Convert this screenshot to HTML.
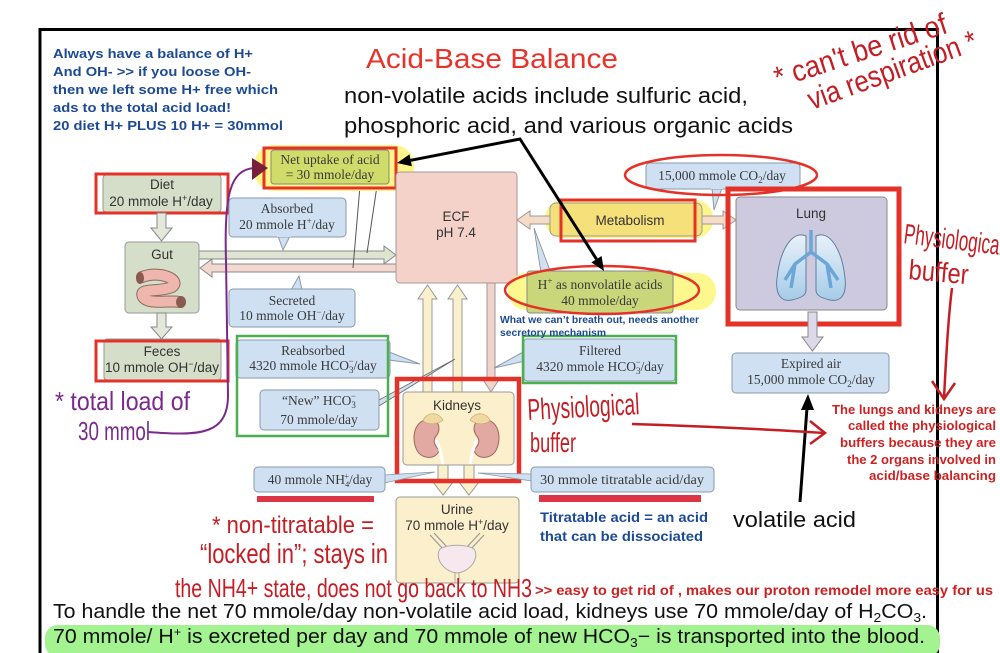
<!DOCTYPE html>
<html><head><meta charset="utf-8">
<style>
html,body{margin:0;padding:0;background:#fff;}
svg{display:block;}
.sf{font-family:"Liberation Serif",serif;font-size:13.5px;fill:#3a3a3a;}
.ss{font-family:"Liberation Sans",sans-serif;font-size:13.5px;fill:#333;}
.hw{font-family:"Liberation Sans",sans-serif;fill:#c41e24;}
.bl{font-family:"Liberation Sans",sans-serif;font-weight:bold;fill:#1c4a94;}
.rb{font-family:"Liberation Sans",sans-serif;font-weight:bold;fill:#cc2222;}
</style></head><body>
<svg width="1000" height="653" viewBox="0 0 1000 653" xmlns="http://www.w3.org/2000/svg">
<defs>
<linearGradient id="lg" x1="0" y1="0" x2="0" y2="1">
<stop offset="0" stop-color="#e8f1fa"/><stop offset="1" stop-color="#a6cbe8"/>
</linearGradient>
</defs>
<rect width="1000" height="653" fill="#fff"/>

<!-- frame -->
<path d="M40 653 V29.5 H937.5 V653" fill="none" stroke="#000" stroke-width="3"/>

<!-- title -->
<text x="366" y="68" font-family="Liberation Sans" font-size="28" fill="#e8332a" textLength="252" lengthAdjust="spacingAndGlyphs">Acid-Base Balance</text>

<!-- blue notes -->
<g class="bl" font-size="13">
<text x="53" y="58" textLength="200" lengthAdjust="spacingAndGlyphs">Always have a balance of H+</text>
<text x="53" y="76" textLength="198" lengthAdjust="spacingAndGlyphs">And OH- &gt;&gt; if you loose OH-</text>
<text x="53" y="94" textLength="225" lengthAdjust="spacingAndGlyphs">then we left some H+ free which</text>
<text x="53" y="112" textLength="178" lengthAdjust="spacingAndGlyphs">ads to the total acid load!</text>
<text x="53" y="130" textLength="230" lengthAdjust="spacingAndGlyphs">20 diet H+ PLUS 10 H+ = 30mmol</text>
</g>

<!-- black heading text -->
<g font-family="Liberation Sans" font-size="22" fill="#111">
<text x="344" y="103" textLength="404" lengthAdjust="spacingAndGlyphs">non-volatile acids include sulfuric acid,</text>
<text x="344" y="133" textLength="449" lengthAdjust="spacingAndGlyphs">phosphoric acid, and various organic acids</text>
</g>

<!-- handwritten top right -->
<g class="hw">
<text transform="translate(778,88) rotate(-18)" font-size="30" textLength="180" lengthAdjust="spacingAndGlyphs">* can't be rid of</text>
<text transform="translate(812,110) rotate(-20)" font-size="30" textLength="178" lengthAdjust="spacingAndGlyphs">via respiration *</text>
</g>

<!-- horizontal gut arrows -->
<polygon points="199,251 384,251 384,246 396,255 384,264 384,259 199,259" fill="#dde5d2" stroke="#888" stroke-width="1"/>
<polygon points="396,264 212,264 212,259 200,268 212,277 212,272 396,272" fill="#f4d8cf" stroke="#888" stroke-width="1"/>

<!-- net uptake tails -->
<line x1="360" y1="186" x2="353" y2="268" stroke="#555" stroke-width="1"/>
<line x1="377" y1="186" x2="367" y2="253" stroke="#555" stroke-width="1"/>

<!-- Net uptake -->
<rect x="254" y="145" width="160" height="46" rx="20" fill="#fdf58a"/>
<rect x="271" y="150" width="118" height="34" rx="3" fill="#d0dc6a" stroke="#8a8a70"/>
<text class="sf" x="330" y="164" text-anchor="middle">Net uptake of acid</text>
<text class="sf" x="330" y="179" text-anchor="middle">= 30 mmole/day</text>
<rect x="264" y="148" width="132" height="40" fill="none" stroke="#e53228" stroke-width="3"/>

<!-- Diet -->
<rect x="103" y="175" width="118" height="37" rx="3" fill="#d5dec8" stroke="#999"/>
<text class="ss" x="162" y="189" text-anchor="middle">Diet</text>
<text class="ss" x="161" y="206" text-anchor="middle">20 mmole H<tspan dy="-5" font-size="9">+</tspan><tspan dy="5">/day</tspan></text>
<rect x="96" y="174" width="132" height="39" fill="none" stroke="#e53228" stroke-width="3"/>

<!-- Diet->Gut arrow -->
<polygon points="157,213 166,213 166,228 172,228 161.5,241 151,228 157,228" fill="#e3e8da" stroke="#888"/>

<!-- Absorbed -->
<polygon points="278,236 290,236 283,250" fill="#cfe0f3" stroke="#8a9aab"/>
<rect x="229" y="198" width="117" height="39" rx="4" fill="#cfe0f3" stroke="#8a9aab"/>
<rect x="277" y="234" width="14" height="3" fill="#cfe0f3"/>
<text class="sf" x="287" y="213" text-anchor="middle">Absorbed</text>
<text class="sf" x="287" y="229" text-anchor="middle">20 mmole H<tspan dy="-5" font-size="9">+</tspan><tspan dy="5">/day</tspan></text>

<!-- Gut -->
<rect x="125" y="242" width="74" height="71" rx="4" fill="#d5dec8" stroke="#999"/>
<text class="ss" x="162" y="259" text-anchor="middle">Gut</text>
<path d="M142 277 C160 270,182 280,172 287 C158 293,138 287,143 297 C148 305,168 300,180 302" fill="none" stroke="#8a6a60" stroke-width="12" stroke-linecap="round"/>
<path d="M142 277 C160 270,182 280,172 287 C158 293,138 287,143 297 C148 305,168 300,180 302" fill="none" stroke="#efb6ae" stroke-width="10" stroke-linecap="round"/>
<ellipse cx="140" cy="278" rx="4" ry="6" fill="#8a5a50"/>
<ellipse cx="181" cy="302" rx="5" ry="6" fill="#8a5a50"/>

<!-- Gut->Feces arrow -->
<polygon points="157,313 166,313 166,327 172,327 161.5,339 151,327 157,327" fill="#e3e8da" stroke="#888"/>

<!-- Secreted -->
<polygon points="291,290 302,290 299,276" fill="#cfe0f3" stroke="#8a9aab"/>
<rect x="229" y="289" width="126" height="38" rx="4" fill="#cfe0f3" stroke="#8a9aab"/>
<text class="sf" x="292" y="305" text-anchor="middle">Secreted</text>
<text class="sf" x="292" y="320" text-anchor="middle">10 mmole OH<tspan dy="-5" font-size="9">−</tspan><tspan dy="5">/day</tspan></text>

<!-- Feces -->
<rect x="104" y="339" width="117" height="41" rx="3" fill="#d5dec8" stroke="#999"/>
<text class="ss" x="162" y="356" text-anchor="middle">Feces</text>
<text class="ss" x="162" y="372" text-anchor="middle">10 mmole OH<tspan dy="-5" font-size="9">−</tspan><tspan dy="5">/day</tspan></text>
<rect x="96" y="341" width="132" height="40" fill="none" stroke="#e53228" stroke-width="3"/>

<!-- ECF -->
<rect x="396" y="172" width="121" height="111" rx="4" fill="#f5d2c9" stroke="#a89a98"/>
<text class="ss" x="456" y="221" text-anchor="middle" font-size="14">ECF</text>
<text class="ss" x="456" y="237" text-anchor="middle" font-size="14">pH 7.4</text>

<!-- kidney up arrows and ECF down arrow -->
<polygon points="423,392 432,392 432,299 437,299 427.5,285 418,299 423,299" fill="#fbf0cc" stroke="#999"/>
<polygon points="453,392 462,392 462,299 467,299 457.5,285 448,299 453,299" fill="#fbf0cc" stroke="#999"/>
<polygon points="487,283 495,283 495,378 500,378 491,392 482,378 487,378" fill="#f3d3c9" stroke="#999"/>

<!-- Reabsorbed group -->
<polygon points="389,352 389,360 420,364" fill="#cfe0f3" stroke="#8a9aab"/>
<rect x="236" y="340" width="154" height="38" rx="4" fill="#cfe0f3" stroke="#8a9aab"/>
<text class="sf" x="313" y="355" text-anchor="middle">Reabsorbed</text>
<text class="sf" x="313" y="370" text-anchor="middle">4320 mmole HCO<tspan dy="3" font-size="9">3</tspan><tspan dy="-9" dx="-5" font-size="9">−</tspan><tspan dy="6">/day</tspan></text>
<polygon points="379,400 379,406 455,359" fill="#cfe0f3" stroke="#666" stroke-width="0.8"/>
<rect x="260" y="390" width="119" height="40" rx="4" fill="#cfe0f3" stroke="#8a9aab"/>
<text class="sf" x="319" y="405" text-anchor="middle">“New” HCO<tspan dy="3" font-size="9">3</tspan><tspan dy="-9" dx="-5" font-size="9">−</tspan></text>
<text class="sf" x="319" y="424" text-anchor="middle">70 mmole/day</text>
<rect x="237" y="336" width="151" height="100" fill="none" stroke="#4caf50" stroke-width="2.5"/>

<!-- Filtered -->
<polygon points="525,351 525,361 494,368" fill="#cfe0f3" stroke="#8a9aab"/>
<rect x="524" y="339" width="151" height="42" rx="3" fill="#cfe0f3" stroke="#8a9aab"/>
<text class="sf" x="600" y="355" text-anchor="middle">Filtered</text>
<text class="sf" x="600" y="371" text-anchor="middle">4320 mmole HCO<tspan dy="3" font-size="9">3</tspan><tspan dy="-9" dx="-5" font-size="9">−</tspan><tspan dy="6">/day</tspan></text>
<rect x="523" y="336" width="153" height="47" fill="none" stroke="#4caf50" stroke-width="2.5"/>

<!-- H+ nonvolatile -->
<polygon points="534,228 541,273 551,273" fill="#cfe0f3" stroke="#888" stroke-width="0.8"/>
<rect x="508" y="273" width="208" height="37" rx="18" fill="#fdf88e"/>
<rect x="527" y="271" width="146" height="42" rx="3" fill="#cad67a" stroke="#888"/>
<text class="sf" x="600" y="289" text-anchor="middle">H<tspan dy="-5" font-size="9">+</tspan><tspan dy="5"> as nonvolatile acids</tspan></text>
<text class="sf" x="600" y="305" text-anchor="middle">40 mmole/day</text>
<ellipse cx="602" cy="290" rx="97" ry="24" fill="none" stroke="#e53228" stroke-width="2.5"/>

<g class="bl" font-size="10">
<text x="500" y="323" textLength="199" lengthAdjust="spacingAndGlyphs">What we can’t breath out, needs another</text>
<text x="500" y="336" textLength="106" lengthAdjust="spacingAndGlyphs">secretory mechanism</text>
</g>

<!-- Metabolism -->
<rect x="545" y="200" width="168" height="38" rx="18" fill="#fdf58a"/>
<polygon points="550,216 530,216 530,211 517,220 530,229 530,224 550,224" fill="#f6dcc6" stroke="#999"/>
<polygon points="702,216 723,216 723,211 736,220 723,229 723,224 702,224" fill="#f6dcc6" stroke="#999"/>
<rect x="550" y="203" width="152" height="33" rx="6" fill="#f6e07a" stroke="#999"/>
<text class="ss" x="630" y="225" text-anchor="middle">Metabolism</text>
<rect x="561" y="200" width="134" height="41" fill="none" stroke="#e53228" stroke-width="3"/>

<!-- CO2 callout -->
<polygon points="712,188 722,188 714,210" fill="#cfe0f3" stroke="#8a9aab"/>
<rect x="646" y="163" width="154" height="26" rx="4" fill="#cfe0f3" stroke="#8a9aab"/>
<rect x="711" y="186" width="12" height="3" fill="#cfe0f3"/>
<text class="sf" x="722" y="180" text-anchor="middle">15,000 mmole CO<tspan dy="3" font-size="9">2</tspan><tspan dy="-3">/day</tspan></text>
<ellipse cx="721" cy="175" rx="96" ry="20" fill="none" stroke="#e53228" stroke-width="2.5"/>

<!-- Lung -->
<rect x="736" y="197" width="151" height="113" rx="4" fill="#cdcadf" stroke="#888"/>
<text class="ss" x="811" y="218" text-anchor="middle">Lung</text>
<path d="M806 236 C792 230,780 250,777 278 C775 296,782 302,792 300 C800 298,806 296,806 290 Z" fill="url(#lg)" stroke="#5f7f9c"/>
<path d="M816 236 C830 230,842 250,845 278 C847 296,840 302,830 300 C822 298,816 296,816 290 Z" fill="url(#lg)" stroke="#5f7f9c"/>
<path d="M811 230 V252 L795 264 L785 280 M795 264 L791 288 M811 252 L827 264 L838 280 M827 264 L831 288" fill="none" stroke="#6aa6d8" stroke-width="3.5" stroke-linejoin="round"/>
<rect x="728" y="189" width="171" height="135" fill="none" stroke="#e53228" stroke-width="5"/>

<polygon points="808,312 817,312 817,337 823,337 812.5,351 802,337 808,337" fill="#ddd9ea" stroke="#888"/>

<!-- Expired air -->
<rect x="732" y="353" width="157" height="40" rx="4" fill="#cfe0f3" stroke="#8a9aab"/>
<text class="sf" x="811" y="368" text-anchor="middle">Expired air</text>
<text class="sf" x="811" y="384" text-anchor="middle">15,000 mmole CO<tspan dy="3" font-size="9">2</tspan><tspan dy="-3">/day</tspan></text>

<!-- Kidneys -->
<rect x="403" y="392" width="111" height="73" rx="4" fill="#fbefcc" stroke="#999"/>
<text class="ss" x="457" y="410" text-anchor="middle">Kidneys</text>
<g id="kid">
<path d="M430 420 C414 418,410 440,418 452 C424 460,437 459,439 450 C434 445,432 440,437 435 C441 428,439 420,430 420 Z" fill="#e2a8a2" stroke="#a0655e"/>
<path d="M423 421 C426 412,438 411,443 420 C437 425,428 425,423 421 Z" fill="#efd9a0" stroke="#c0a070" stroke-width="0.6"/>
<path d="M436 440 C440 448,442 456,443 466" fill="none" stroke="#fff" stroke-width="3"/>
</g>
<use href="#kid" transform="translate(913,0) scale(-1,1)"/>
<polygon points="438,465 448,465 448,482 453,482 443,495 433,482 438,482" fill="#fbf0cc" stroke="#999"/>
<polygon points="464,465 474,465 474,482 479,482 469,495 459,482 464,482" fill="#fbf0cc" stroke="#999"/>
<rect x="397" y="379" width="122" height="102" fill="none" stroke="#e53228" stroke-width="4.5"/>

<!-- Urine -->
<rect x="396" y="497" width="123" height="86" rx="4" fill="#fbefcc" stroke="#999"/>
<text class="ss" x="457" y="514" text-anchor="middle">Urine</text>
<text class="ss" x="457" y="530" text-anchor="middle">70 mmole H<tspan dy="-5" font-size="9">+</tspan><tspan dy="5">/day</tspan></text>
<path d="M430 535 L444 550 M434 533 L447 547 M484 535 L470 550 M480 533 L467 547" stroke="#999" stroke-width="1.2"/>
<path d="M440 549 C448 544,466 544,474 549 C480 558,470 572,457 573 C444 572,434 558,440 549 Z" fill="#f6e8ec" stroke="#aaa"/>
<path d="M455 572 V583 M459 572 V583" stroke="#aaa"/>

<!-- NH4 and titratable -->
<polygon points="384,475 384,483 435,472" fill="#cfe0f3" stroke="#8a9aab" stroke-width="0.8"/>
<rect x="254" y="467" width="131" height="25" rx="4" fill="#cfe0f3" stroke="#8a9aab"/>
<text class="sf" x="320" y="484" text-anchor="middle" font-size="12.5">40 mmole NH<tspan dy="3" font-size="8.5">4</tspan><tspan dy="-8" dx="-5" font-size="8.5">+</tspan><tspan dy="5">/day</tspan></text>
<rect x="257" y="496" width="117" height="6" fill="#dc3545"/>
<polygon points="532,474 532,481 478,473" fill="#cfe0f3" stroke="#8a9aab" stroke-width="0.8"/>
<rect x="531" y="467" width="183" height="25" rx="4" fill="#cfe0f3" stroke="#8a9aab"/>
<text class="sf" x="622" y="484" text-anchor="middle" font-size="12.5" textLength="164" lengthAdjust="spacingAndGlyphs">30 mmole titratable acid/day</text>
<rect x="539" y="495" width="162" height="7" fill="#dc3545"/>

<g class="bl" font-size="14">
<text x="540" y="522" textLength="168" lengthAdjust="spacingAndGlyphs">Titratable acid = an acid</text>
<text x="540" y="541" textLength="163" lengthAdjust="spacingAndGlyphs">that can be dissociated</text>
</g>

<text x="733" y="527" font-family="Liberation Sans" font-size="22" fill="#111" textLength="123" lengthAdjust="spacingAndGlyphs">volatile acid</text>

<!-- black arrows -->
<polyline points="410.7,160.3 520,139 596.5,259.2" fill="none" stroke="#000" stroke-width="3"/>
<polygon points="397,163 411.9,166.2 409.5,154.4" fill="#000"/>
<polygon points="604,271 591.4,262.4 601.6,256" fill="#000"/>
<line x1="800" y1="502" x2="807" y2="408" stroke="#000" stroke-width="3"/>
<polygon points="808,394 801,410 814,410" fill="#000"/>

<!-- purple annotation -->
<path d="M148 432 C200 436,228 435,228 395 L226 260 C224 195,230 170,254 168" fill="none" stroke="#7a2a8c" stroke-width="2"/>
<polygon points="252,158 268,168 252,180" fill="#7a1f3a"/>
<g font-family="Liberation Sans" fill="#7a2a8c">
<text x="55" y="410" font-size="26" textLength="135" lengthAdjust="spacingAndGlyphs">* total load of</text>
<text x="78" y="440" font-size="26" textLength="72" lengthAdjust="spacingAndGlyphs">30 mmol</text>
</g>

<!-- physiological buffer annotations -->
<g class="hw">
<text transform="translate(903,243) rotate(7)" font-size="28" textLength="100" lengthAdjust="spacingAndGlyphs">Physiological</text>
<text transform="translate(908,279) rotate(5)" font-size="28" textLength="60" lengthAdjust="spacingAndGlyphs">buffer</text>
<text transform="translate(528,420) rotate(-3)" font-size="30" textLength="112" lengthAdjust="spacingAndGlyphs">Physiological</text>
<text x="530" y="452" font-size="28" textLength="46" lengthAdjust="spacingAndGlyphs">buffer</text>
</g>
<path d="M952 288 C948 320,946 360,944 398" fill="none" stroke="#c41e24" stroke-width="2.5"/>
<polyline points="932,381 944,399 955,383" fill="none" stroke="#c41e24" stroke-width="2.5"/>
<path d="M632 424 C700 426,780 430,824 433" fill="none" stroke="#c41e24" stroke-width="2.5"/>
<polyline points="810,421 825,433 810,444" fill="none" stroke="#c41e24" stroke-width="2.5"/>

<!-- right red text -->
<g class="rb" font-size="12.5" text-anchor="end">
<text x="996" y="414" textLength="164" lengthAdjust="spacingAndGlyphs">The lungs and kidneys are</text>
<text x="996" y="430" textLength="148" lengthAdjust="spacingAndGlyphs">called the physiological</text>
<text x="996" y="447" textLength="156" lengthAdjust="spacingAndGlyphs">buffers because they are</text>
<text x="996" y="464" textLength="149" lengthAdjust="spacingAndGlyphs">the 2 organs involved in</text>
<text x="996" y="480" textLength="127" lengthAdjust="spacingAndGlyphs">acid/base balancing</text>
</g>

<!-- bottom handwritten -->
<g class="hw">
<text x="212" y="533" font-size="24" textLength="162" lengthAdjust="spacingAndGlyphs">* non-titratable =</text>
<text x="200" y="563" font-size="28" textLength="188" lengthAdjust="spacingAndGlyphs">“locked in”; stays in</text>
<text x="175" y="597" font-size="26" textLength="357" lengthAdjust="spacingAndGlyphs">the NH4+ state, does not go back to NH3</text>
</g>
<text class="rb" x="535" y="595" font-size="13.5" textLength="458" lengthAdjust="spacingAndGlyphs">&gt;&gt; easy to get rid of , makes our proton remodel more easy for us</text>

<!-- bottom lines -->
<rect x="45" y="625" width="895" height="32" rx="13" fill="#a3f390"/>
<g font-family="Liberation Sans" font-size="20" fill="#111">
<text x="53" y="618" textLength="874" lengthAdjust="spacingAndGlyphs">To handle the net 70 mmole/day non-volatile acid load, kidneys use 70 mmole/day of H<tspan dy="4" font-size="13">2</tspan><tspan dy="-4">CO</tspan><tspan dy="4" font-size="13">3</tspan><tspan dy="-4">.</tspan></text>
<text x="53" y="643" textLength="872" lengthAdjust="spacingAndGlyphs">70 mmole/ H<tspan dy="-7" font-size="12">+</tspan><tspan dy="7"> is excreted per day and 70 mmole of new HCO</tspan><tspan dy="4" font-size="13">3</tspan><tspan dy="-4">− is transported into the blood.</tspan></text>
</g>
</svg>
</body></html>
